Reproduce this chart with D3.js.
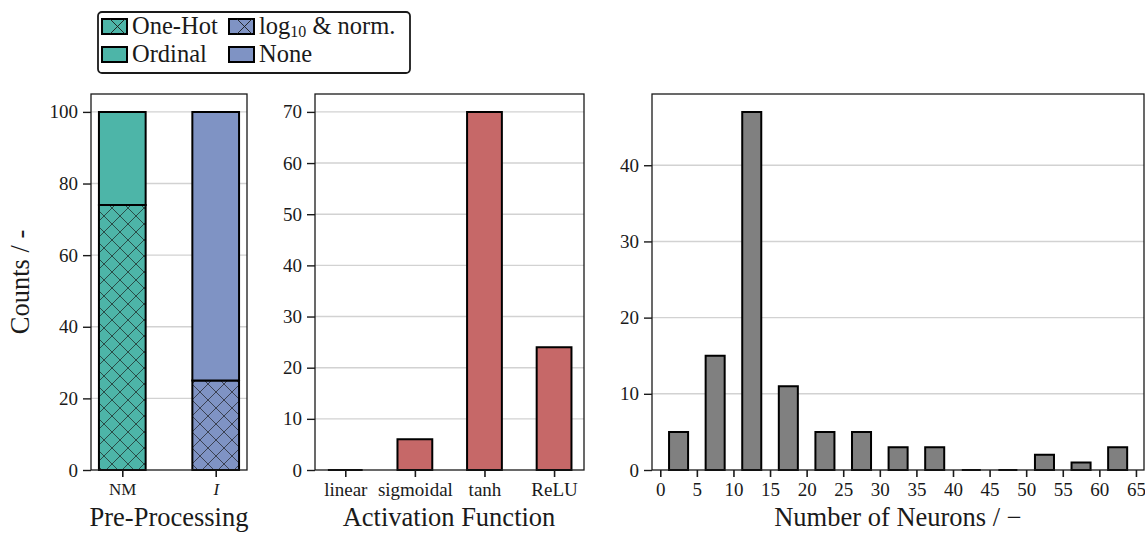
<!DOCTYPE html>
<html>
<head>
<meta charset="utf-8">
<script src="https://cdn.jsdelivr.net/npm/d3@7"></script>
<style>
  body { margin: 0; background: #fff; }
  svg { font-family: "Liberation Serif", "DejaVu Serif", serif; }
  svg text { font-family: "Liberation Serif", "DejaVu Serif", serif; }
</style>
</head>
<body>
<div id="chart"></div>
<script>
// 数据
const preCats = ["NM", "I"];
const preHatched = [74, 25];   // One-Hot / log10 & norm.
const prePlain = [26, 75];     // Ordinal / None
const preColors = ["#4db5a8", "#7f93c4"];
const preTicks = [0, 20, 40, 60, 80, 100];

const actCats = ["linear", "sigmoidal", "tanh", "ReLU"];
const actCounts = [0, 6, 70, 24];
const actTicks = [0, 10, 20, 30, 40, 50, 60, 70];

const neuronBinStarts = [0, 5, 10, 15, 20, 25, 30, 35, 40, 45, 50, 55, 60];
const neuronCounts = [5, 15, 47, 11, 5, 5, 3, 3, 0, 0, 2, 1, 3];
const neuronXTicks = [0, 5, 10, 15, 20, 25, 30, 35, 40, 45, 50, 55, 60, 65];
const neuronYTicks = [0, 10, 20, 30, 40];

const legendItems = [
  {label: "One-Hot", color: preColors[0], hatch: true},
  {label: "Ordinal", color: preColors[0], hatch: false},
  {label: "log10", color: preColors[1], hatch: true},
  {label: "None", color: preColors[1], hatch: false}
];

const W = 1145, H = 533;
const dark = "#1a1a1a";
const gridColor = "#d2d2d2";
const tickFont = 19;
const titleFont = 26.5;

const svg = d3.select("#chart").append("svg")
  .attr("width", W).attr("height", H);

// 交叉阴影
const defs = svg.append("defs");
const pat = defs.append("pattern")
  .attr("id", "hatch")
  .attr("patternUnits", "userSpaceOnUse")
  .attr("width", 16).attr("height", 16);
pat.append("path")
  .attr("d", "M0,0 L16,16 M16,0 L0,16 M-4,12 L4,20 M12,-4 L20,4 M12,20 L20,12 M-4,4 L4,-4")
  .attr("stroke", "#1a1a1a").attr("stroke-opacity", 0.75)
  .attr("stroke-width", 0.9).attr("fill", "none");

const bottomY = 470, topY = 94;

function barPath(x0, x1, y0, y1) {
  return `M${x0},${y0}H${x1}V${y1}H${x0}Z`;
}

function makePanel(left, right, xDomain, yDomain, yTicks) {
  const x = d3.scaleLinear().domain(xDomain).range([left, right]);
  const y = d3.scaleLinear().domain(yDomain).range([bottomY, topY]);
  const g = svg.append("g");
  // 网格线
  g.selectAll("line.grid")
    .data(yTicks.filter(t => t > 0))
    .join("line")
    .attr("class", "grid")
    .attr("x1", left).attr("x2", right)
    .attr("y1", d => y(d)).attr("y2", d => y(d))
    .attr("stroke", gridColor).attr("stroke-width", 1.4);
  const yAxis = g.append("g")
    .attr("transform", `translate(${left},0)`)
    .call(d3.axisLeft(y).tickValues(yTicks).tickSize(8).tickPadding(5).tickFormat(d3.format("d")))
    .attr("font-family", "Liberation Serif");
  yAxis.select(".domain").remove();
  yAxis.selectAll(".tick line").attr("stroke", dark).attr("stroke-width", 1.4);
  yAxis.selectAll("text").attr("font-size", tickFont).attr("fill", dark);
  return {x, y, g};
}

function frame(p, left, right) {
  p.g.append("rect")
    .attr("x", left).attr("y", topY)
    .attr("width", right - left).attr("height", bottomY - topY)
    .attr("fill", "none").attr("stroke", dark).attr("stroke-width", 1.3);
}

function xAxis(p, ticks, fmt) {
  const ax = p.g.append("g")
    .attr("transform", `translate(0,${bottomY})`)
    .call(d3.axisBottom(p.x).tickValues(ticks).tickSize(7).tickPadding(6).tickFormat(fmt))
    .attr("font-family", "Liberation Serif");
  ax.select(".domain").remove();
  ax.selectAll(".tick line").attr("stroke", dark).attr("stroke-width", 1.6);
  ax.selectAll("text").attr("font-size", tickFont).attr("fill", dark);
  return ax;
}

function xTitle(text, cx) {
  svg.append("text")
    .attr("x", cx).attr("y", 526)
    .attr("text-anchor", "middle")
    .attr("font-size", titleFont).attr("fill", dark)
    .text(text);
}

// 面板1：预处理
const L1 = 91, R1 = 247;
const p1 = makePanel(L1, R1, [-0.335, 1.335], [0, 105], preTicks);
const bw1 = 0.25;
p1.g.selectAll("path.base")
  .data(preCats)
  .join("path")
  .attr("d", (d, i) => barPath(p1.x(i - bw1), p1.x(i + bw1), p1.y(0), p1.y(preHatched[i])))
  .attr("fill", (d, i) => preColors[i]);
p1.g.selectAll("path.hatch")
  .data(preCats)
  .join("path")
  .attr("d", (d, i) => barPath(p1.x(i - bw1), p1.x(i + bw1), p1.y(0), p1.y(preHatched[i])))
  .attr("fill", "url(#hatch)")
  .attr("stroke", "#000").attr("stroke-width", 2);
p1.g.selectAll("path.top")
  .data(preCats)
  .join("path")
  .attr("d", (d, i) => barPath(p1.x(i - bw1), p1.x(i + bw1), p1.y(preHatched[i]), p1.y(preHatched[i] + prePlain[i])))
  .attr("fill", (d, i) => preColors[i])
  .attr("stroke", "#000").attr("stroke-width", 2);
frame(p1, L1, R1);
const ax1 = xAxis(p1, [0, 1], i => preCats[i]);
ax1.selectAll("text").attr("font-size", 17)
  .attr("font-style", (d, i) => i === 1 ? "italic" : "normal");
xTitle("Pre-Processing", 169);

svg.append("text")
  .attr("transform", `translate(29,282) rotate(-90)`)
  .attr("text-anchor", "middle")
  .attr("font-size", titleFont).attr("fill", dark)
  .text("Counts / -");

// 面板2：激活函数
const L2 = 315, R2 = 584;
const p2 = makePanel(L2, R2, [-0.435, 3.43], [0, 73.5], actTicks);
p2.g.selectAll("path.bar")
  .data(actCounts)
  .join("path")
  .attr("d", (d, i) => barPath(p2.x(i - 0.25), p2.x(i + 0.25), p2.y(0), p2.y(d)))
  .attr("fill", "#c66868")
  .attr("stroke", "#000").attr("stroke-width", 2);
frame(p2, L2, R2);
xAxis(p2, [0, 1, 2, 3], i => actCats[i]);
xTitle("Activation Function", 449);

// 面板3：神经元数量
const L3 = 652, R3 = 1144;
const p3 = makePanel(L3, R3, [-1.13, 66.1], [0, 49.35], neuronYTicks);
p3.g.selectAll("path.bar")
  .data(neuronCounts)
  .join("path")
  .attr("d", (d, i) => {
    const c = neuronBinStarts[i] + 2.5;
    return barPath(p3.x(c - 1.3), p3.x(c + 1.3), p3.y(0), p3.y(d));
  })
  .attr("fill", "#808080")
  .attr("stroke", "#000").attr("stroke-width", 2);
frame(p3, L3, R3);
xAxis(p3, neuronXTicks, d3.format("d"));
xTitle("Number of Neurons / \u2212", 898);

// 图例
const lg = svg.append("g");
lg.append("rect")
  .attr("x", 98).attr("y", 12).attr("width", 312).attr("height", 61)
  .attr("rx", 4).attr("fill", "#fff")
  .attr("stroke", dark).attr("stroke-width", 1.8);
const legendPos = [[102, 19], [102, 47], [229, 19], [229, 47]];
legendItems.forEach((it, i) => {
  const [lx, ly] = legendPos[i];
  lg.append("rect")
    .attr("x", lx).attr("y", ly).attr("width", 25).attr("height", 15)
    .attr("fill", it.color).attr("stroke", "#000").attr("stroke-width", 2);
  if (it.hatch) {
    lg.append("path")
      .attr("d", `M${lx + 8},${ly}L${lx + 23},${ly + 15}M${lx + 23},${ly}L${lx + 8},${ly + 15}`)
      .attr("stroke", "#1a1a1a").attr("stroke-width", 0.9).attr("fill", "none");
  }
  const t = lg.append("text")
    .attr("x", lx + 30).attr("y", ly + 15)
    .attr("font-size", 24.5).attr("fill", dark);
  if (it.label === "log10") {
    t.append("tspan").text("log");
    t.append("tspan").attr("font-size", 16).attr("dy", 3).text("10");
    t.append("tspan").attr("dy", -3).text(" & norm.");
  } else {
    t.text(it.label);
  }
});
</script>
</body>
</html>
